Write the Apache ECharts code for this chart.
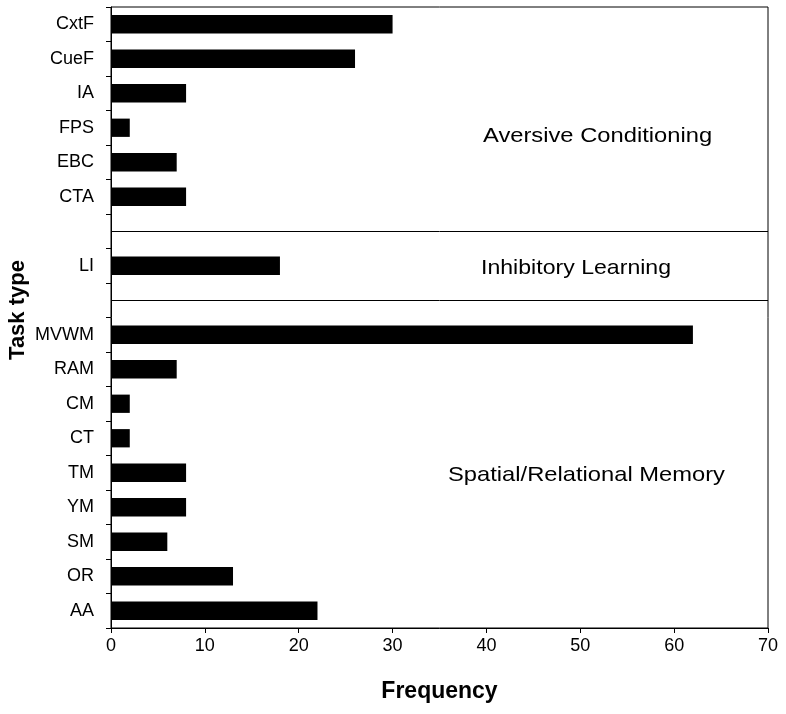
<!DOCTYPE html>
<html><head><meta charset="utf-8">
<script src="https://cdn.jsdelivr.net/npm/echarts@6/dist/echarts.min.js"></script>
<style>html,body{margin:0;padding:0;background:#fff}#c{width:786px;height:714px}</style>
</head><body><div id="c"></div>
<script>
// categories top -> bottom ('gap' entries are empty rows between groups)
const categories = ['CxtF','CueF','IA','FPS','EBC','CTA','gap1','LI','gap2','MVWM','RAM','CM','CT','TM','YM','SM','OR','AA'];
const values =     [30, 26, 8, 2, 7, 8, null, 18, null, 62, 7, 2, 2, 8, 8, 6, 13, 22];
const separators = ['gap1','gap2'];
const xTicks = [0,10,20,30,40,50,60,70];
const groupLabels = ['Aversive Conditioning','Inhibitory Learning','Spatial/Relational Memory'];
const yTitle = 'Task type';

const chart = echarts.init(document.getElementById('c'));
const font = 'Liberation Sans, Arial, sans-serif';
const noteStyle = (t)=>({text:t,font:'21px '+font,fill:'#000',textAlign:'left',textVerticalAlign:'middle'});
chart.setOption({
  animation:false,
  backgroundColor:'#fff',
  grid:{left:111,right:18,top:7,bottom:86,show:true,borderColor:'#000',borderWidth:1,containLabel:false,outerBoundsMode:'none'},
  xAxis:{type:'value',min:xTicks[0],max:xTicks[xTicks.length-1],interval:10,
    name:'Frequency',nameLocation:'middle',nameGap:52,
    nameTextStyle:{fontFamily:font,fontWeight:'bold',fontSize:23,color:'#000'},
    axisLine:{show:true,lineStyle:{color:'#000',width:1}},
    axisTick:{show:true,length:5,lineStyle:{color:'#000'}},
    axisLabel:{fontFamily:font,fontSize:18,color:'#000',margin:9},
    splitLine:{show:false}},
  yAxis:{type:'category',data:categories,inverse:true,
    axisLine:{show:true,lineStyle:{color:'#000',width:1}},
    axisTick:{show:true,length:5,lineStyle:{color:'#000'}},
    axisLabel:{fontFamily:font,fontSize:18,color:'#000',margin:17,
      formatter:v=>v.startsWith('gap')?'':v}},
  series:[{type:'bar',data:values,barWidth:'53%',itemStyle:{color:'#000'},
    markLine:{silent:true,symbol:['none','none'],label:{show:false},
      lineStyle:{color:'#000',width:1,type:'solid'},
      data:separators.map(s=>({yAxis:s}))}}],
  graphic:[
    {type:'text',x:18,y:310,rotation:Math.PI/2,
      style:{text:yTitle,font:'bold 22px '+font,fill:'#000',textAlign:'center',textVerticalAlign:'middle'}},
    {type:'text',x:483,y:136,scaleX:1.13,style:noteStyle(groupLabels[0])},
    {type:'text',x:481,y:268,scaleX:1.1,style:noteStyle(groupLabels[1])},
    {type:'text',x:448,y:475,scaleX:1.13,style:noteStyle(groupLabels[2])}
  ]
});
</script></body></html>
